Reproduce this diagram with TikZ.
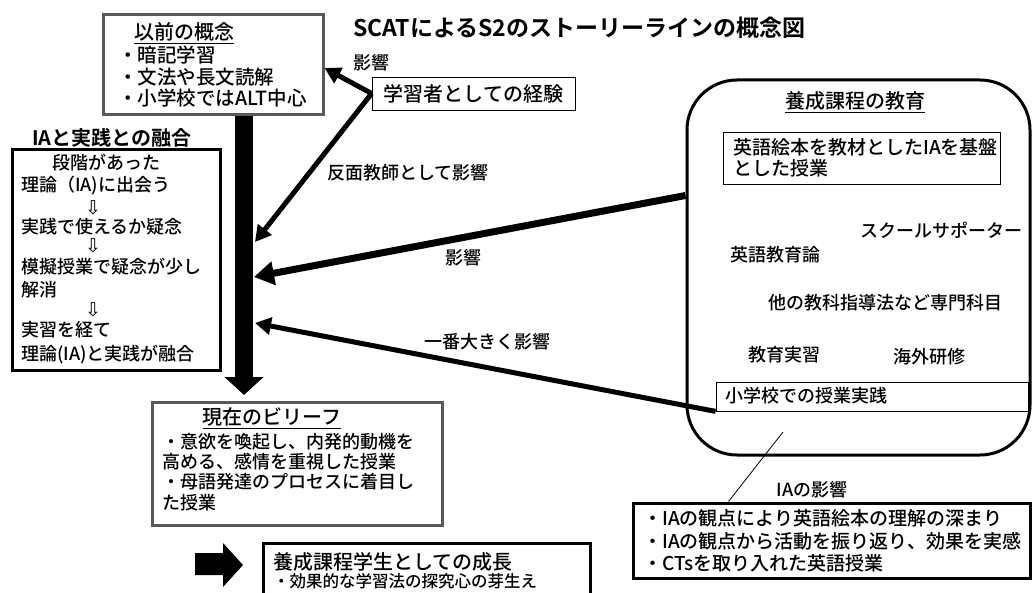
\documentclass[tikz,border=0pt]{standalone}
\usepackage{fontspec}
\setmainfont{Noto Sans CJK JP Medium}[BoldFont={Noto Sans CJK JP Bold}]
\newfontfamily\symfont{DejaVu Sans}
\usetikzlibrary{arrows.meta}
\newcommand{\fs}[1]{\fontsize{#1}{#1}\selectfont}

\begin{document}
\begin{tikzpicture}[x=1pt,y=-1pt,
    greybox/.style={draw=black!65, line width=3pt, inner sep=0pt},
    blackbox/.style={draw, line width=2.5pt, inner sep=0pt},
    thinbox/.style={draw, line width=0.8pt, inner sep=0pt},
    txt/.style={anchor=west, inner sep=0pt, font=\fs{18}},
    lbl/.style={inner sep=0pt, font=\fs{18}},
    head/.style={inner sep=0pt, font=\fs{20}},
    darr/.style={inner sep=0pt, font=\symfont\fs{19}},
    infl/.style={-{Triangle[length=16pt,width=17pt]}, line width=5pt}]
  \clip (0,0) rectangle (1032,593);

  \node[anchor=west, inner sep=0pt, font=\bfseries\fs{23}] (title) at (353,28)
    {SCATによるS2のストーリーラインの概念図};

  % previous concepts
  \node[greybox, minimum width=220pt, minimum height=100pt] (prev) at (213,65) {};
  \path
    (184,33) node[head] (prevh) {\underline{以前の概念}}
    (118,55) node[txt, font=\fs{19.5}] (prev1) {・暗記学習}
    (118,77) node[txt, font=\fs{19.5}] (prev2) {・文法や長文読解}
    (118,98) node[txt, font=\fs{19.5}] (prev3) {・小学校ではALT中心};

  \node[thinbox, minimum width=203pt, minimum height=33pt, font=\fs{20}] (exp)
    at (473.5,93.5) {学習者としての経験};
  \node[lbl] (explbl) at (371,63) {影響};

  % IA and practice
  \node[head, font=\bfseries\fs{20}] (fuseh) at (112,138) {IAと実践との融合};
  \node[blackbox, line width=3pt, minimum width=208pt, minimum height=220pt] (fuse) at (116,260) {};
  \path
    (106,163) node[lbl] (f0) {段階があった}
    (21,186) node[txt] (f1) {理論（IA)に出会う}
    (93,208) node[darr] (d1) {⇩}
    (21,227) node[txt] (f2) {実践で使えるか疑念}
    (93,246) node[darr] (d2) {⇩}
    (21,267) node[txt] (f3) {模擬授業で疑念が少し}
    (21,290) node[txt] (f4) {解消}
    (93,310) node[darr] (d3) {⇩}
    (21,330) node[txt] (f5) {実習を経て}
    (21,355) node[txt] (f6) {理論(IA)と実践が融合};

  % main flow
  \coordinate (barend) at (244,395);
  \draw[line width=18pt, -{Triangle[length=18pt,width=38pt]}] (prev.south -| barend) -- (barend);
  \coordinate (hit1) at (255,242);
  \coordinate (hit2) at (254,277);
  \coordinate (hit3) at (255,323);

  % teacher training
  \node[draw, line width=3pt, rounded corners=50pt, minimum width=343pt, minimum height=375pt] (edu)
    at (858.5,267.5) {};
  \node[head] (eduh) at (855,102) {\underline{養成課程の教育}};
  \node[thinbox, minimum width=277pt, minimum height=52pt] (book) at (861.5,158) {};
  \path
    (733,147) node[txt, font=\fs{19}] (book1) {英語絵本を教材としたIAを基盤}
    (733,168) node[txt, font=\fs{19}] (book2) {とした授業}
    (860,230) node[txt] (sup) {スクールサポーター}
    (730,255) node[txt] (theo) {英語教育論}
    (768,303) node[txt] (other) {他の教科指導法など専門科目}
    (748,355) node[txt] (prak) {教育実習}
    (893,357) node[txt] (abroad) {海外研修};
  \node[thinbox, minimum width=312pt, minimum height=29pt] (prac) at (872,396.5) {};
  \node[txt] (pract) at (725,396) {小学校での授業実践};

  % influences
  \draw[infl] (exp.west) -- ([yshift=-3pt]prev.east);
  \draw[infl] (exp.west) -- (hit1);
  \draw[infl, line width=7pt, -{Triangle[length=20pt,width=23pt]}] ([yshift=72pt]edu.west) -- (hit2);
  \draw[infl] (prac.south west) -- (hit3);
  \node[lbl] (l1) at (408,173) {反面教師として影響};
  \node[lbl] (l2) at (463,258) {影響};
  \node[lbl] (l3) at (487,342) {一番大きく影響};

  % IA effects
  \coordinate (pin) at (783,432);
  \node[blackbox, line width=3pt, minimum width=397pt, minimum height=75pt] (ia) at (831.5,540.5) {};
  \draw[line width=0.8pt] (pin) -- ([xshift=97pt]ia.north west);
  \node[lbl] (ialbl) at (812,490) {IAの影響};
  \path
    (643,518) node[txt, font=\fs{19}] (ia1) {・IAの観点により英語絵本の理解の深まり}
    (643,541) node[txt, font=\fs{19}] (ia2) {・IAの観点から活動を振り返り、効果を実感}
    (643,563) node[txt, font=\fs{19}] (ia3) {・CTsを取り入れた英語授業};

  % present beliefs
  \node[greybox, minimum width=290pt, minimum height=123pt] (now) at (297,463.5) {};
  \path
    (272,418) node[head] (nowh) {\underline{現在のビリーフ}}
    (162,442) node[txt] (now1) {・意欲を喚起し、内発的動機を}
    (162,462) node[txt] (now2) {高める、感情を重視した授業}
    (162,482) node[txt] (now3) {・母語発達のプロセスに着目し}
    (162,503) node[txt] (now4) {た授業};

  % growth
  \fill (195,553) -- (223,553) -- (223,543) -- (243,565) -- (223,587) -- (223,575) -- (195,575) -- cycle;
  \node[blackbox, line width=3pt, minimum width=327pt, minimum height=70pt] (grow) at (426.5,578) {};
  \path
    (273,562) node[txt, font=\fs{20}] (grow1) {養成課程学生としての成長}
    (273,581) node[txt, font=\fs{16.5}] (grow2) {・効果的な学習法の探究心の芽生え};
\end{tikzpicture}
\end{document}
